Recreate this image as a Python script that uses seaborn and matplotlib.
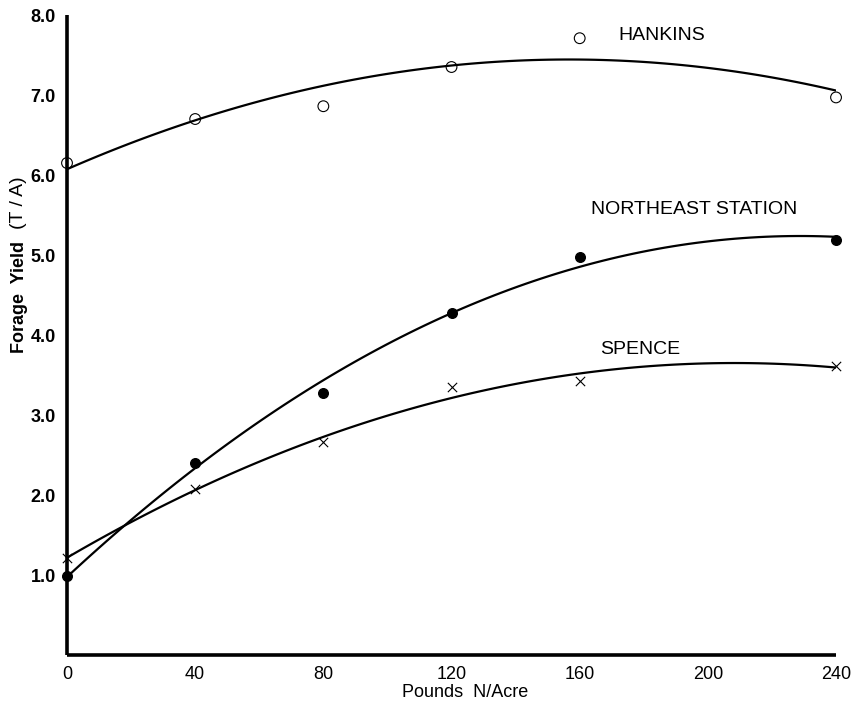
import matplotlib
matplotlib.use("Agg")
import matplotlib.pyplot as plt
import seaborn as sns
import pandas as pd

# --- DADOS ---
nitrogen = [0, 40, 80, 120, 160, 240]          # Pounds N/Acre
hankins = [6.15, 6.70, 6.86, 7.35, 7.71, 6.97]
northeast = [0.99, 2.40, 3.27, 4.28, 4.97, 5.19]
spence = [1.21, 2.08, 2.66, 3.35, 3.42, 3.61]

x_ticks = [0, 40, 80, 120, 160, 200, 240]
y_ticks = [1.0, 2.0, 3.0, 4.0, 5.0, 6.0, 7.0, 8.0]

df = pd.DataFrame({"N": nitrogen, "Hankins": hankins,
                   "Northeast": northeast, "Spence": spence})

sns.set_theme(style="white")
plt.rcParams["font.family"] = ["Liberation Sans", "DejaVu Sans"]
plt.rcParams["text.color"] = "black"
plt.rcParams["axes.labelcolor"] = "black"

fig = plt.figure(figsize=(8.58, 7.05), dpi=100)
ax = fig.add_axes([0.0781, 0.0709, 0.8963, 0.9078])

line_kws = dict(color="black", lw=1.6)

# Hankins: circulos abertos
sns.regplot(data=df, x="N", y="Hankins", order=2, ci=None, ax=ax,
            marker="o", line_kws=line_kws,
            scatter_kws=dict(s=60, facecolors="none", edgecolors="black",
                             linewidths=0.8, alpha=1, clip_on=False, zorder=3))

# Northeast Station: circulos cheios
sns.regplot(data=df, x="N", y="Northeast", order=2, ci=None, ax=ax,
            marker="o", line_kws=line_kws,
            scatter_kws=dict(s=48, color="black", alpha=1, clip_on=False, zorder=3))

# Spence: cruzes
sns.regplot(data=df, x="N", y="Spence", order=2, ci=None, ax=ax,
            marker="x", line_kws=line_kws,
            scatter_kws=dict(s=45, color="black", linewidths=0.8, alpha=1,
                             clip_on=False, zorder=3))

# Rotulos das series
ax.text(172, 7.74, "HANKINS", fontsize=14, ha="left", va="center", color="black")
ax.text(163.5, 5.57, "NORTHEAST STATION", fontsize=14, ha="left", va="center", color="black")
ax.text(166.4, 3.82, "SPENCE", fontsize=14, ha="left", va="center", color="black")

ax.set_xlim(0, 240)
ax.set_ylim(0, 8)
ax.set_xticks(x_ticks)
ax.set_xticklabels([str(v) for v in x_ticks], fontsize=13)
ax.set_yticks(y_ticks)
ax.set_yticklabels([f"{v:.1f}" for v in y_ticks], fontsize=13, fontweight="bold")
ax.tick_params(axis="both", length=0, colors="black", labelcolor="black")
ax.tick_params(axis="x", pad=8)
ax.tick_params(axis="y", pad=8)

sns.despine(ax=ax)
for side in ["left", "bottom"]:
    ax.spines[side].set_color("black")
    ax.spines[side].set_linewidth(2.6)
    ax.spines[side].set_capstyle("butt")

ax.set_xlabel("Pounds  N/Acre", fontsize=13, color="black")
ax.xaxis.label.set_va("center")
ax.xaxis.set_label_coords(0.5176, -0.0578)

ax.set_ylabel("")
ax.text(-0.0618, 0.559, "Forage  Yield", rotation=90, fontsize=13,
        fontweight="bold", ha="center", va="center", transform=ax.transAxes)
ax.text(-0.0637, 0.707, "(T / A)", rotation=90, fontsize=14,
        ha="center", va="center", transform=ax.transAxes)

fig.savefig("out.png", dpi=100, facecolor="white")
